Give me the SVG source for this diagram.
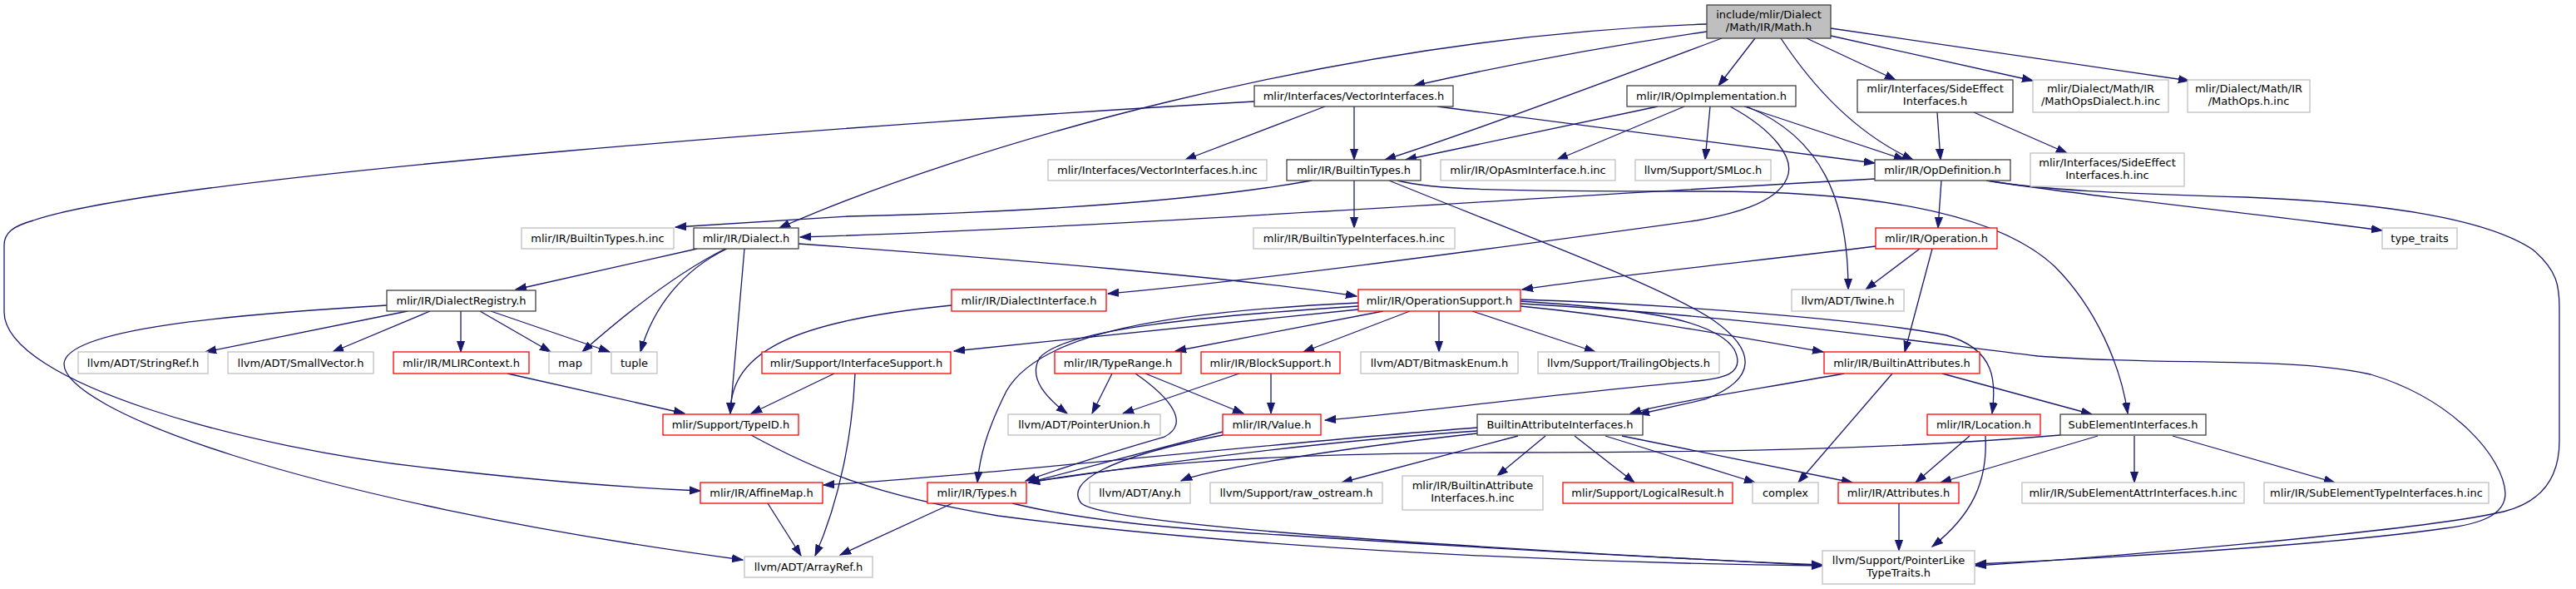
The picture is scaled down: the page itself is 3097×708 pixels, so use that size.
<svg xmlns="http://www.w3.org/2000/svg" width="3097" height="708" viewBox="0 0 3097 708">
<style>
rect{fill:#fff;stroke-width:1.3}
.g rect{stroke:#bfbfbf}
.k rect{stroke:#404040}
.r rect{stroke:#ff0000}
.root rect{fill:#bfbfbf;stroke:#404040}
text{font-family:"DejaVu Sans","Liberation Sans",sans-serif;font-size:13px;fill:#000;text-anchor:middle}
#edges path{fill:none;stroke:#191970;stroke-width:1.3;marker-end:url(#a)}
</style>
<defs>
<marker id="a" markerWidth="14" markerHeight="11" refX="13" refY="5" orient="auto" markerUnits="userSpaceOnUse" viewBox="0 0 14 11"><path d="M0,0.5 L13,5 L0,9.5z" fill="#191970" stroke="#191970" stroke-width="1"/></marker>
</defs>
<rect x="0" y="0" width="3097" height="708" style="fill:#fff;stroke:none"/>
<g id="edges">
<path d="M2052,29 C1600,45 1150,180 937,274"/>
<path d="M2052,38 C1900,60 1780,85 1700,103"/>
<path d="M2070,46 C1900,110 1750,165 1665,192"/>
<path d="M2110,46 L2066,103"/>
<path d="M2141,46 C2180,105 2230,160 2300,192"/>
<path d="M2172,46 L2279,96"/>
<path d="M2201,43 L2444,97"/>
<path d="M2201,34 L2632,97"/>
<path d="M1508,122 C1100,145 200,210 40,265 C15,272 5,280 5,295 L5,375 C5,460 300,540 520,563 C650,578 750,586 842,590"/>
<path d="M1593,128 L1425,192"/>
<path d="M1628,128 L1628,192"/>
<path d="M1728,128 L2254,196"/>
<path d="M1993,128 L1690,192"/>
<path d="M2025,128 L1872,192"/>
<path d="M2056,128 L2050,192"/>
<path d="M2097,128 L2290,192"/>
<path d="M2080,128 C2130,155 2160,190 2148,215 C2135,245 2080,258 2040,265 C1750,305 1500,338 1332,353"/>
<path d="M2100,128 C2190,165 2222,240 2222,348"/>
<path d="M2329,135 L2333,192"/>
<path d="M2373,135 L2485,184"/>
<path d="M1577,217 C1450,240 1250,255 1020,260 L812,273"/>
<path d="M1628,217 L1628,274"/>
<path d="M1670,217 C1850,290 2000,345 2060,385 C2110,420 2115,455 2050,480 L1970,498"/>
<path d="M1680,217 C1720,228 1800,230 2050,230 C2250,230 2400,255 2470,320 C2520,370 2550,440 2558,497"/>
<path d="M2254,215 C1800,240 1300,275 962,285"/>
<path d="M2334,217 L2330,274"/>
<path d="M2388,217 C2500,235 2700,255 2864,277"/>
<path d="M2390,217 C2450,228 2550,233 2700,237 C2900,245 3000,270 3045,300 C3075,325 3077,345 3077,370 L3077,530 C3077,580 3050,605 3010,615 C2900,640 2500,672 2375,680"/>
<path d="M838,299 L620,348"/>
<path d="M872,299 C820,325 760,370 700,423"/>
<path d="M874,299 C820,325 785,370 770,423"/>
<path d="M895,299 L878,497"/>
<path d="M960,293 C1200,310 1500,335 1631,356"/>
<path d="M490,374 L247,423"/>
<path d="M517,374 L400,423"/>
<path d="M554,374 L554,423"/>
<path d="M577,374 L662,423"/>
<path d="M590,374 L733,423"/>
<path d="M465,367 C280,378 80,395 77,437 C75,490 350,600 893,673"/>
<path d="M610,449 L823,497"/>
<path d="M1003,449 L903,497"/>
<path d="M1028,449 C1025,520 1010,600 980,668"/>
<path d="M1144,367 C960,385 878,420 878,497"/>
<path d="M903,523 C980,565 1050,595 1200,620 C1500,660 1900,677 2191,680"/>
<path d="M1145,605 L1010,667"/>
<path d="M923,605 L963,668"/>
<path d="M1217,605 C1300,625 1400,635 1540,643 C1800,660 2050,673 2191,679"/>
<path d="M1633,364 C1400,375 1250,400 1210,470 C1185,520 1178,550 1175,580"/>
<path d="M1633,368 C1450,380 1280,395 1250,430 C1235,455 1260,480 1283,497"/>
<path d="M1633,372 L1147,422"/>
<path d="M1663,374 L1413,422"/>
<path d="M1695,374 L1567,423"/>
<path d="M1730,374 L1730,423"/>
<path d="M1770,374 L1918,423"/>
<path d="M1828,362 C1950,370 2060,380 2085,420 C2100,450 2070,455 2040,458 C1850,475 1700,497 1593,505"/>
<path d="M1828,368 C1950,380 2050,398 2192,423"/>
<path d="M1828,360 C2000,365 2250,385 2340,403 C2400,420 2400,460 2395,497"/>
<path d="M1828,365 C2100,380 2300,410 2450,428 C2600,440 2750,428 2850,450 C2950,480 3010,550 3012,593 C3012,620 2980,630 2940,635 C2800,655 2550,670 2375,678"/>
<path d="M1337,449 L1313,497"/>
<path d="M1377,449 L1495,497"/>
<path d="M1365,449 C1410,480 1430,510 1400,525 C1330,545 1270,565 1233,578"/>
<path d="M1490,449 L1350,497"/>
<path d="M1528,449 L1528,497"/>
<path d="M1470,519 L1237,580"/>
<path d="M1470,523 C1330,550 1280,580 1300,605 C1330,630 1700,655 2191,680"/>
<path d="M1776,518 C1600,530 1400,555 1237,580"/>
<path d="M1776,514 C1500,535 1200,570 990,583"/>
<path d="M1776,521 C1600,540 1450,565 1420,578"/>
<path d="M1825,524 L1613,580"/>
<path d="M1858,524 L1800,572"/>
<path d="M1893,524 L1965,580"/>
<path d="M1930,524 L2110,580"/>
<path d="M1950,524 L2227,580"/>
<path d="M2217,449 C2100,470 2000,485 1960,497"/>
<path d="M2275,449 L2162,580"/>
<path d="M2335,449 L2515,498"/>
<path d="M2255,296 C2100,315 1950,330 1830,348"/>
<path d="M2308,299 L2243,348"/>
<path d="M2323,299 L2290,423"/>
<path d="M2477,523 C2300,538 2100,544 1800,544 C1500,545 1350,560 1237,580"/>
<path d="M2522,524 L2333,580"/>
<path d="M2566,524 L2566,580"/>
<path d="M2612,524 L2807,580"/>
<path d="M2368,524 L2303,580"/>
<path d="M2387,524 C2390,580 2370,620 2323,657"/>
<path d="M2283,605 L2283,662"/>
</g>
<g id="root" class="root"><rect x="2052" y="6" width="149" height="40"/><text x="2126.5" y="22">include/mlir/Dialect</text><text x="2126.5" y="37">/Math/IR/Math.h</text></g>
<g id="VectorInterfaces" class="k"><rect x="1508" y="103" width="239" height="25"/><text x="1627.5" y="120">mlir/Interfaces/VectorInterfaces.h</text></g>
<g id="OpImplementation" class="k"><rect x="1956" y="103" width="203" height="25"/><text x="2057.5" y="120">mlir/IR/OpImplementation.h</text></g>
<g id="SideEffectInterfaces" class="k"><rect x="2233" y="96" width="187" height="39"/><text x="2326.5" y="111">mlir/Interfaces/SideEffect</text><text x="2326.5" y="126">Interfaces.h</text></g>
<g id="MathOpsDialect" class="g"><rect x="2444" y="96" width="163" height="39"/><text x="2525.5" y="111">mlir/Dialect/Math/IR</text><text x="2525.5" y="126">/MathOpsDialect.h.inc</text></g>
<g id="MathOps" class="g"><rect x="2630" y="96" width="147" height="39"/><text x="2703.5" y="111">mlir/Dialect/Math/IR</text><text x="2703.5" y="126">/MathOps.h.inc</text></g>
<g id="VectorInterfacesInc" class="g"><rect x="1260" y="192" width="263" height="25"/><text x="1391.5" y="209">mlir/Interfaces/VectorInterfaces.h.inc</text></g>
<g id="BuiltinTypes" class="k"><rect x="1547" y="192" width="161" height="25"/><text x="1627.5" y="209">mlir/IR/BuiltinTypes.h</text></g>
<g id="OpAsmInterface" class="g"><rect x="1732" y="192" width="210" height="25"/><text x="1837" y="209">mlir/IR/OpAsmInterface.h.inc</text></g>
<g id="SMLoc" class="g"><rect x="1966" y="192" width="163" height="25"/><text x="2047.5" y="209">llvm/Support/SMLoc.h</text></g>
<g id="OpDefinition" class="k"><rect x="2254" y="192" width="163" height="25"/><text x="2335.5" y="209">mlir/IR/OpDefinition.h</text></g>
<g id="SideEffectInc" class="g"><rect x="2441" y="184" width="185" height="40"/><text x="2533.5" y="200">mlir/Interfaces/SideEffect</text><text x="2533.5" y="215">Interfaces.h.inc</text></g>
<g id="BuiltinTypesInc" class="g"><rect x="627" y="274" width="183" height="25"/><text x="718.5" y="291">mlir/IR/BuiltinTypes.h.inc</text></g>
<g id="Dialect" class="k"><rect x="834" y="274" width="126" height="25"/><text x="897" y="291">mlir/IR/Dialect.h</text></g>
<g id="BuiltinTypeInterfacesInc" class="g"><rect x="1507" y="274" width="242" height="25"/><text x="1628" y="291">mlir/IR/BuiltinTypeInterfaces.h.inc</text></g>
<g id="Operation" class="r"><rect x="2255" y="274" width="146" height="25"/><text x="2328" y="291">mlir/IR/Operation.h</text></g>
<g id="type_traits" class="g"><rect x="2864" y="274" width="90" height="25"/><text x="2909" y="291">type_traits</text></g>
<g id="DialectRegistry" class="k"><rect x="465" y="349" width="179" height="25"/><text x="554.5" y="366">mlir/IR/DialectRegistry.h</text></g>
<g id="DialectInterface" class="r"><rect x="1144" y="348" width="186" height="26"/><text x="1237" y="366">mlir/IR/DialectInterface.h</text></g>
<g id="OperationSupport" class="r"><rect x="1633" y="348" width="195" height="26"/><text x="1730.5" y="366">mlir/IR/OperationSupport.h</text></g>
<g id="Twine" class="g"><rect x="2154" y="348" width="135" height="26"/><text x="2221.5" y="366">llvm/ADT/Twine.h</text></g>
<g id="StringRef" class="g"><rect x="94" y="423" width="156" height="26"/><text x="172" y="441">llvm/ADT/StringRef.h</text></g>
<g id="SmallVector" class="g"><rect x="274" y="423" width="175" height="26"/><text x="361.5" y="441">llvm/ADT/SmallVector.h</text></g>
<g id="MLIRContext" class="r"><rect x="473" y="423" width="163" height="26"/><text x="554.5" y="441">mlir/IR/MLIRContext.h</text></g>
<g id="map" class="g"><rect x="660" y="423" width="51" height="26"/><text x="685.5" y="441">map</text></g>
<g id="tuple" class="g"><rect x="735" y="423" width="55" height="26"/><text x="762.5" y="441">tuple</text></g>
<g id="InterfaceSupport" class="r"><rect x="916" y="423" width="227" height="26"/><text x="1029.5" y="441">mlir/Support/InterfaceSupport.h</text></g>
<g id="TypeRange" class="r"><rect x="1268" y="423" width="152" height="26"/><text x="1344" y="441">mlir/IR/TypeRange.h</text></g>
<g id="BlockSupport" class="r"><rect x="1444" y="423" width="167" height="26"/><text x="1527.5" y="441">mlir/IR/BlockSupport.h</text></g>
<g id="BitmaskEnum" class="g"><rect x="1636" y="423" width="189" height="26"/><text x="1730.5" y="441">llvm/ADT/BitmaskEnum.h</text></g>
<g id="TrailingObjects" class="g"><rect x="1849" y="423" width="218" height="26"/><text x="1958" y="441">llvm/Support/TrailingObjects.h</text></g>
<g id="BuiltinAttributes" class="r"><rect x="2193" y="423" width="187" height="26"/><text x="2286.5" y="441">mlir/IR/BuiltinAttributes.h</text></g>
<g id="TypeID" class="r"><rect x="797" y="498" width="163" height="25"/><text x="878.5" y="515">mlir/Support/TypeID.h</text></g>
<g id="PointerUnion" class="g"><rect x="1212" y="498" width="183" height="25"/><text x="1303.5" y="515">llvm/ADT/PointerUnion.h</text></g>
<g id="Value" class="r"><rect x="1470" y="498" width="118" height="25"/><text x="1529" y="515">mlir/IR/Value.h</text></g>
<g id="BuiltinAttributeInterfaces" class="k"><rect x="1776" y="498" width="199" height="25"/><text x="1875.5" y="515">BuiltinAttributeInterfaces.h</text></g>
<g id="Location" class="r"><rect x="2317" y="498" width="136" height="25"/><text x="2385" y="515">mlir/IR/Location.h</text></g>
<g id="SubElementInterfaces" class="k"><rect x="2477" y="498" width="175" height="25"/><text x="2564.5" y="515">SubElementInterfaces.h</text></g>
<g id="AffineMap" class="r"><rect x="842" y="580" width="147" height="25"/><text x="915.5" y="597">mlir/IR/AffineMap.h</text></g>
<g id="Types" class="r"><rect x="1115" y="580" width="119" height="25"/><text x="1174.5" y="597">mlir/IR/Types.h</text></g>
<g id="Any" class="g"><rect x="1310" y="580" width="121" height="25"/><text x="1370.5" y="597">llvm/ADT/Any.h</text></g>
<g id="raw_ostream" class="g"><rect x="1455" y="580" width="207" height="25"/><text x="1558.5" y="597">llvm/Support/raw_ostream.h</text></g>
<g id="BuiltinAttributeInterfacesInc" class="g"><rect x="1686" y="572" width="169" height="41"/><text x="1770.5" y="588">mlir/IR/BuiltinAttribute</text><text x="1770.5" y="603">Interfaces.h.inc</text></g>
<g id="LogicalResult" class="r"><rect x="1879" y="580" width="204" height="25"/><text x="1981" y="597">mlir/Support/LogicalResult.h</text></g>
<g id="complex" class="g"><rect x="2107" y="580" width="79" height="25"/><text x="2146.5" y="597">complex</text></g>
<g id="Attributes" class="r"><rect x="2210" y="580" width="145" height="25"/><text x="2282.5" y="597">mlir/IR/Attributes.h</text></g>
<g id="SubElementAttrInterfacesInc" class="g"><rect x="2431" y="580" width="267" height="25"/><text x="2564.5" y="597">mlir/IR/SubElementAttrInterfaces.h.inc</text></g>
<g id="SubElementTypeInterfacesInc" class="g"><rect x="2722" y="580" width="270" height="25"/><text x="2857" y="597">mlir/IR/SubElementTypeInterfaces.h.inc</text></g>
<g id="ArrayRef" class="g"><rect x="895" y="669" width="154" height="25"/><text x="972" y="686">llvm/ADT/ArrayRef.h</text></g>
<g id="PointerLikeTypeTraits" class="g"><rect x="2191" y="662" width="183" height="40"/><text x="2282.5" y="678">llvm/Support/PointerLike</text><text x="2282.5" y="693">TypeTraits.h</text></g>
</svg>
